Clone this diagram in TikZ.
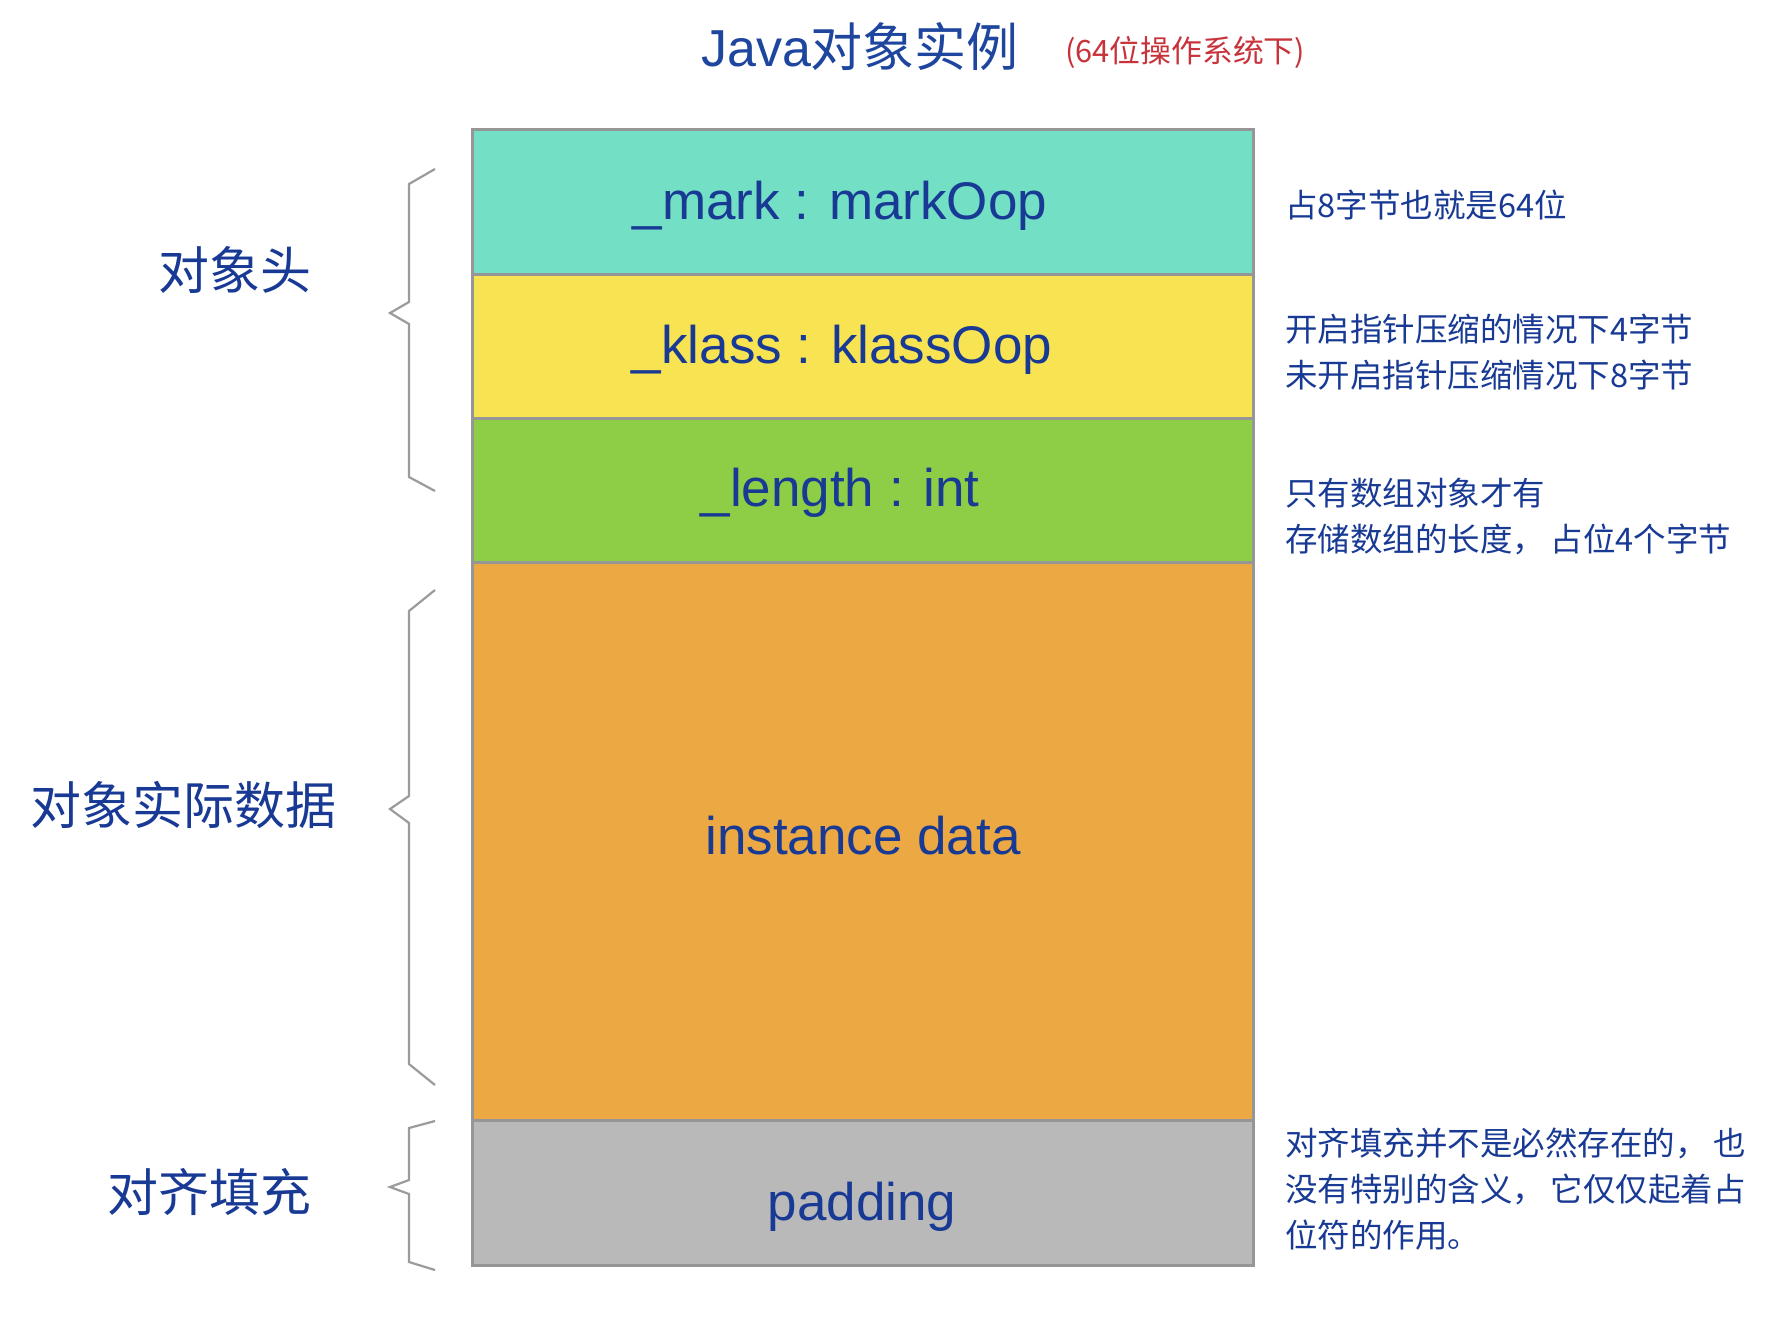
\documentclass[tikz,border=0pt]{standalone}
\usepackage{fontspec}
\setmainfont{Liberation Sans}
\newfontfamily\cjk{Noto Sans CJK SC}
\definecolor{tealc}{RGB}{115,223,196}
\definecolor{yellowc}{RGB}{248,227,82}
\definecolor{greenc}{RGB}{142,206,70}
\definecolor{orangec}{RGB}{236,168,67}
\definecolor{grayc}{RGB}{185,185,185}
\definecolor{borderc}{RGB}{150,150,150}
\definecolor{textc}{RGB}{24,58,148}
\definecolor{titlec}{RGB}{30,70,158}
\definecolor{redc}{RGB}{200,50,58}
\definecolor{bracec}{RGB}{155,155,155}
\begin{document}
\begin{tikzpicture}[x=1pt,y=-1pt,
  field/.style={draw=borderc, line width=2.5pt, minimum width=781pt, inner sep=0pt, anchor=north west},
  fieldtext/.style={text=textc, font=\fontsize{53}{60}\selectfont, inner sep=0pt},
  sidelabel/.style={text=textc, font=\cjk\fontsize{51}{60}\selectfont, inner sep=0pt},
  note/.style={text=textc, font=\cjk\fontsize{32.5}{46}\selectfont, align=left, anchor=west, inner sep=0pt},
  bracepath/.style={draw=bracec, line width=2.2pt, line join=miter}]
\useasboundingbox (0,0) rectangle (1766,1318);
\fill[white] (0,0) rectangle (1766,1318);
% title
\node[text=titlec, inner sep=0pt, font=\fontsize{52}{60}\selectfont] (title) at (860,47) {Java{\cjk 对象实例}};
\node[text=redc, inner sep=0pt, anchor=west, font=\cjk\fontsize{30.8}{34}\selectfont] (subtitle) at (1065,52) {(64位操作系统下)};
% fields
\node[field, fill=tealc, minimum height=145pt] (mark) at (471,128) {};
\node[field, fill=yellowc, minimum height=144pt] (klass) at (471,273) {};
\node[field, fill=greenc, minimum height=144pt] (len) at (471,417) {};
\node[field, fill=orangec, minimum height=558pt] (data) at (471,561) {};
\node[field, fill=grayc, minimum height=145pt] (pad) at (471,1119) {};
\node[fieldtext] (markt) at (840,206) {\_mark : markOop};
\node[fieldtext] (klasst) at (842,350) {\_klass : klassOop};
\node[fieldtext] (lent) at (840,493) {\_length : int};
\node[fieldtext] (datat) at (863,836) {instance data};
\node[fieldtext] (padt) at (862,1207) {padding};
% side labels
\node[sidelabel] (hdr) at (235,270) {对象头};
\node[sidelabel] (inst) at (183,805) {对象实际数据};
\node[sidelabel] (align) at (209,1192) {对齐填充};
% braces
\draw[bracepath] (435,169) -- (409,184) -- (409,302) -- (390,313) -- (409,324) -- (409,477) -- (435,491);
\draw[bracepath] (435,590) -- (409,611) -- (409,796) -- (390,809) -- (409,823) -- (409,1064) -- (435,1085);
\draw[bracepath] (435,1121) -- (409,1128) -- (409,1180) -- (390,1187) -- (409,1194) -- (409,1262) -- (435,1270);
% notes
\node[note] (n1) at (1285,205) {占8字节也就是64位};
\node[note] (n2) at (1285,352) {开启指针压缩的情况下4字节\\未开启指针压缩情况下8字节};
\node[note] (n3) at (1285,517) {只有数组对象才有\\存储数组的长度，\,占位4个字节};
\node[note] (n4) at (1285,1189) {对齐填充并不是必然存在的，\,也\\没有特别的含义，\,它仅仅起着占\\位符的作用。};
\end{tikzpicture}
\end{document}
